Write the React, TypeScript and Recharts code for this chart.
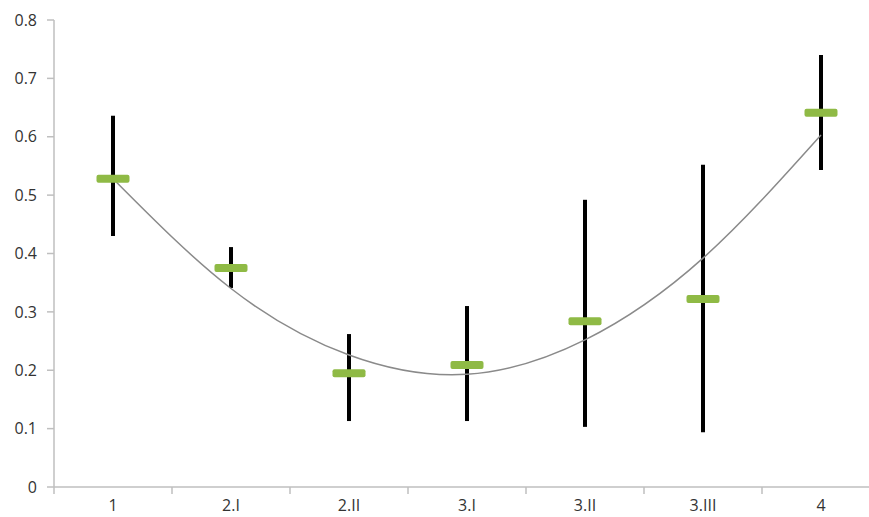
import React from 'react';
import { ComposedChart, XAxis, YAxis, Scatter, Bar, Line } from 'recharts';

const categories = ['1', '2.I', '2.II', '3.I', '3.II', '3.III', '4'];
const means = [0.528, 0.375, 0.195, 0.209, 0.284, 0.322, 0.641];
const lows = [0.43, 0.341, 0.113, 0.113, 0.103, 0.094, 0.543];
const highs = [0.636, 0.411, 0.262, 0.31, 0.492, 0.552, 0.74];
const trend = [0.528, 0.34, 0.226, 0.193, 0.252, 0.392, 0.603];
const yTicks = [0, 0.1, 0.2, 0.3, 0.4, 0.5, 0.6, 0.7, 0.8];

const data = categories.map((c, i) => ({
  cat: c,
  mean: means[i],
  range: [lows[i], highs[i]],
  trend: trend[i],
}));

const FONT = '"Open Sans", sans-serif';

const XTick = (props: any) => {
  const { x, y, payload, index, visibleTicksCount } = props;
  const off = payload.offset || 0;
  return (
    <g>
      <line x1={x - off} x2={x - off} y1={y} y2={y + 7} stroke="#bfbfbf" strokeWidth={1.5} />
      {index === visibleTicksCount - 1 && (
        <line x1={x + off} x2={x + off} y1={y} y2={y + 7} stroke="#bfbfbf" strokeWidth={1.5} />
      )}
      <text x={x} y={y + 13} dy="0.71em" textAnchor="middle" fill="#333" fontSize={16} fontFamily={FONT}>
        {payload.value}
      </text>
    </g>
  );
};

const Marker = (props: any) => {
  const { cx, cy } = props;
  if (cx == null || cy == null) return null;
  return <rect x={cx - 16.5} y={cy - 4} width={33} height={8} rx={2} fill="#8fba45" />;
};

export default function App() {
  return (
    <div style={{ position: 'absolute', left: 0, top: 0, background: '#fff' }}>
      <ComposedChart
        width={880}
        height={530}
        data={data}
        margin={{ top: 20, right: 0, bottom: 13, left: 8 }}
      >
        <XAxis
          dataKey="cat"
          type="category"
          height={30}
          tickSize={0}
          tickMargin={0}
          tickLine={false}
          axisLine={{ stroke: '#bfbfbf', strokeWidth: 1.5 }}
          tick={<XTick />}
          interval={0}
        />
        <YAxis
          type="number"
          domain={[0, 0.8]}
          ticks={yTicks}
          width={46}
          tickSize={7}
          tickMargin={10}
          tickLine={{ stroke: '#bfbfbf', strokeWidth: 1.5 }}
          axisLine={{ stroke: '#bfbfbf', strokeWidth: 1.5 }}
          tick={{ fill: '#333', fontSize: 16, fontFamily: FONT }}
          allowDataOverflow
        />
        <Scatter dataKey="mean" shape={<Marker />} isAnimationActive={false} />
        <Bar dataKey="range" barSize={4} fill="#000" isAnimationActive={false} />
        <Line
          dataKey="trend"
          type="natural"
          stroke="#8a8a8a"
          strokeWidth={1.5}
          dot={false}
          activeDot={false}
          isAnimationActive={false}
        />
      </ComposedChart>
    </div>
  );
}
